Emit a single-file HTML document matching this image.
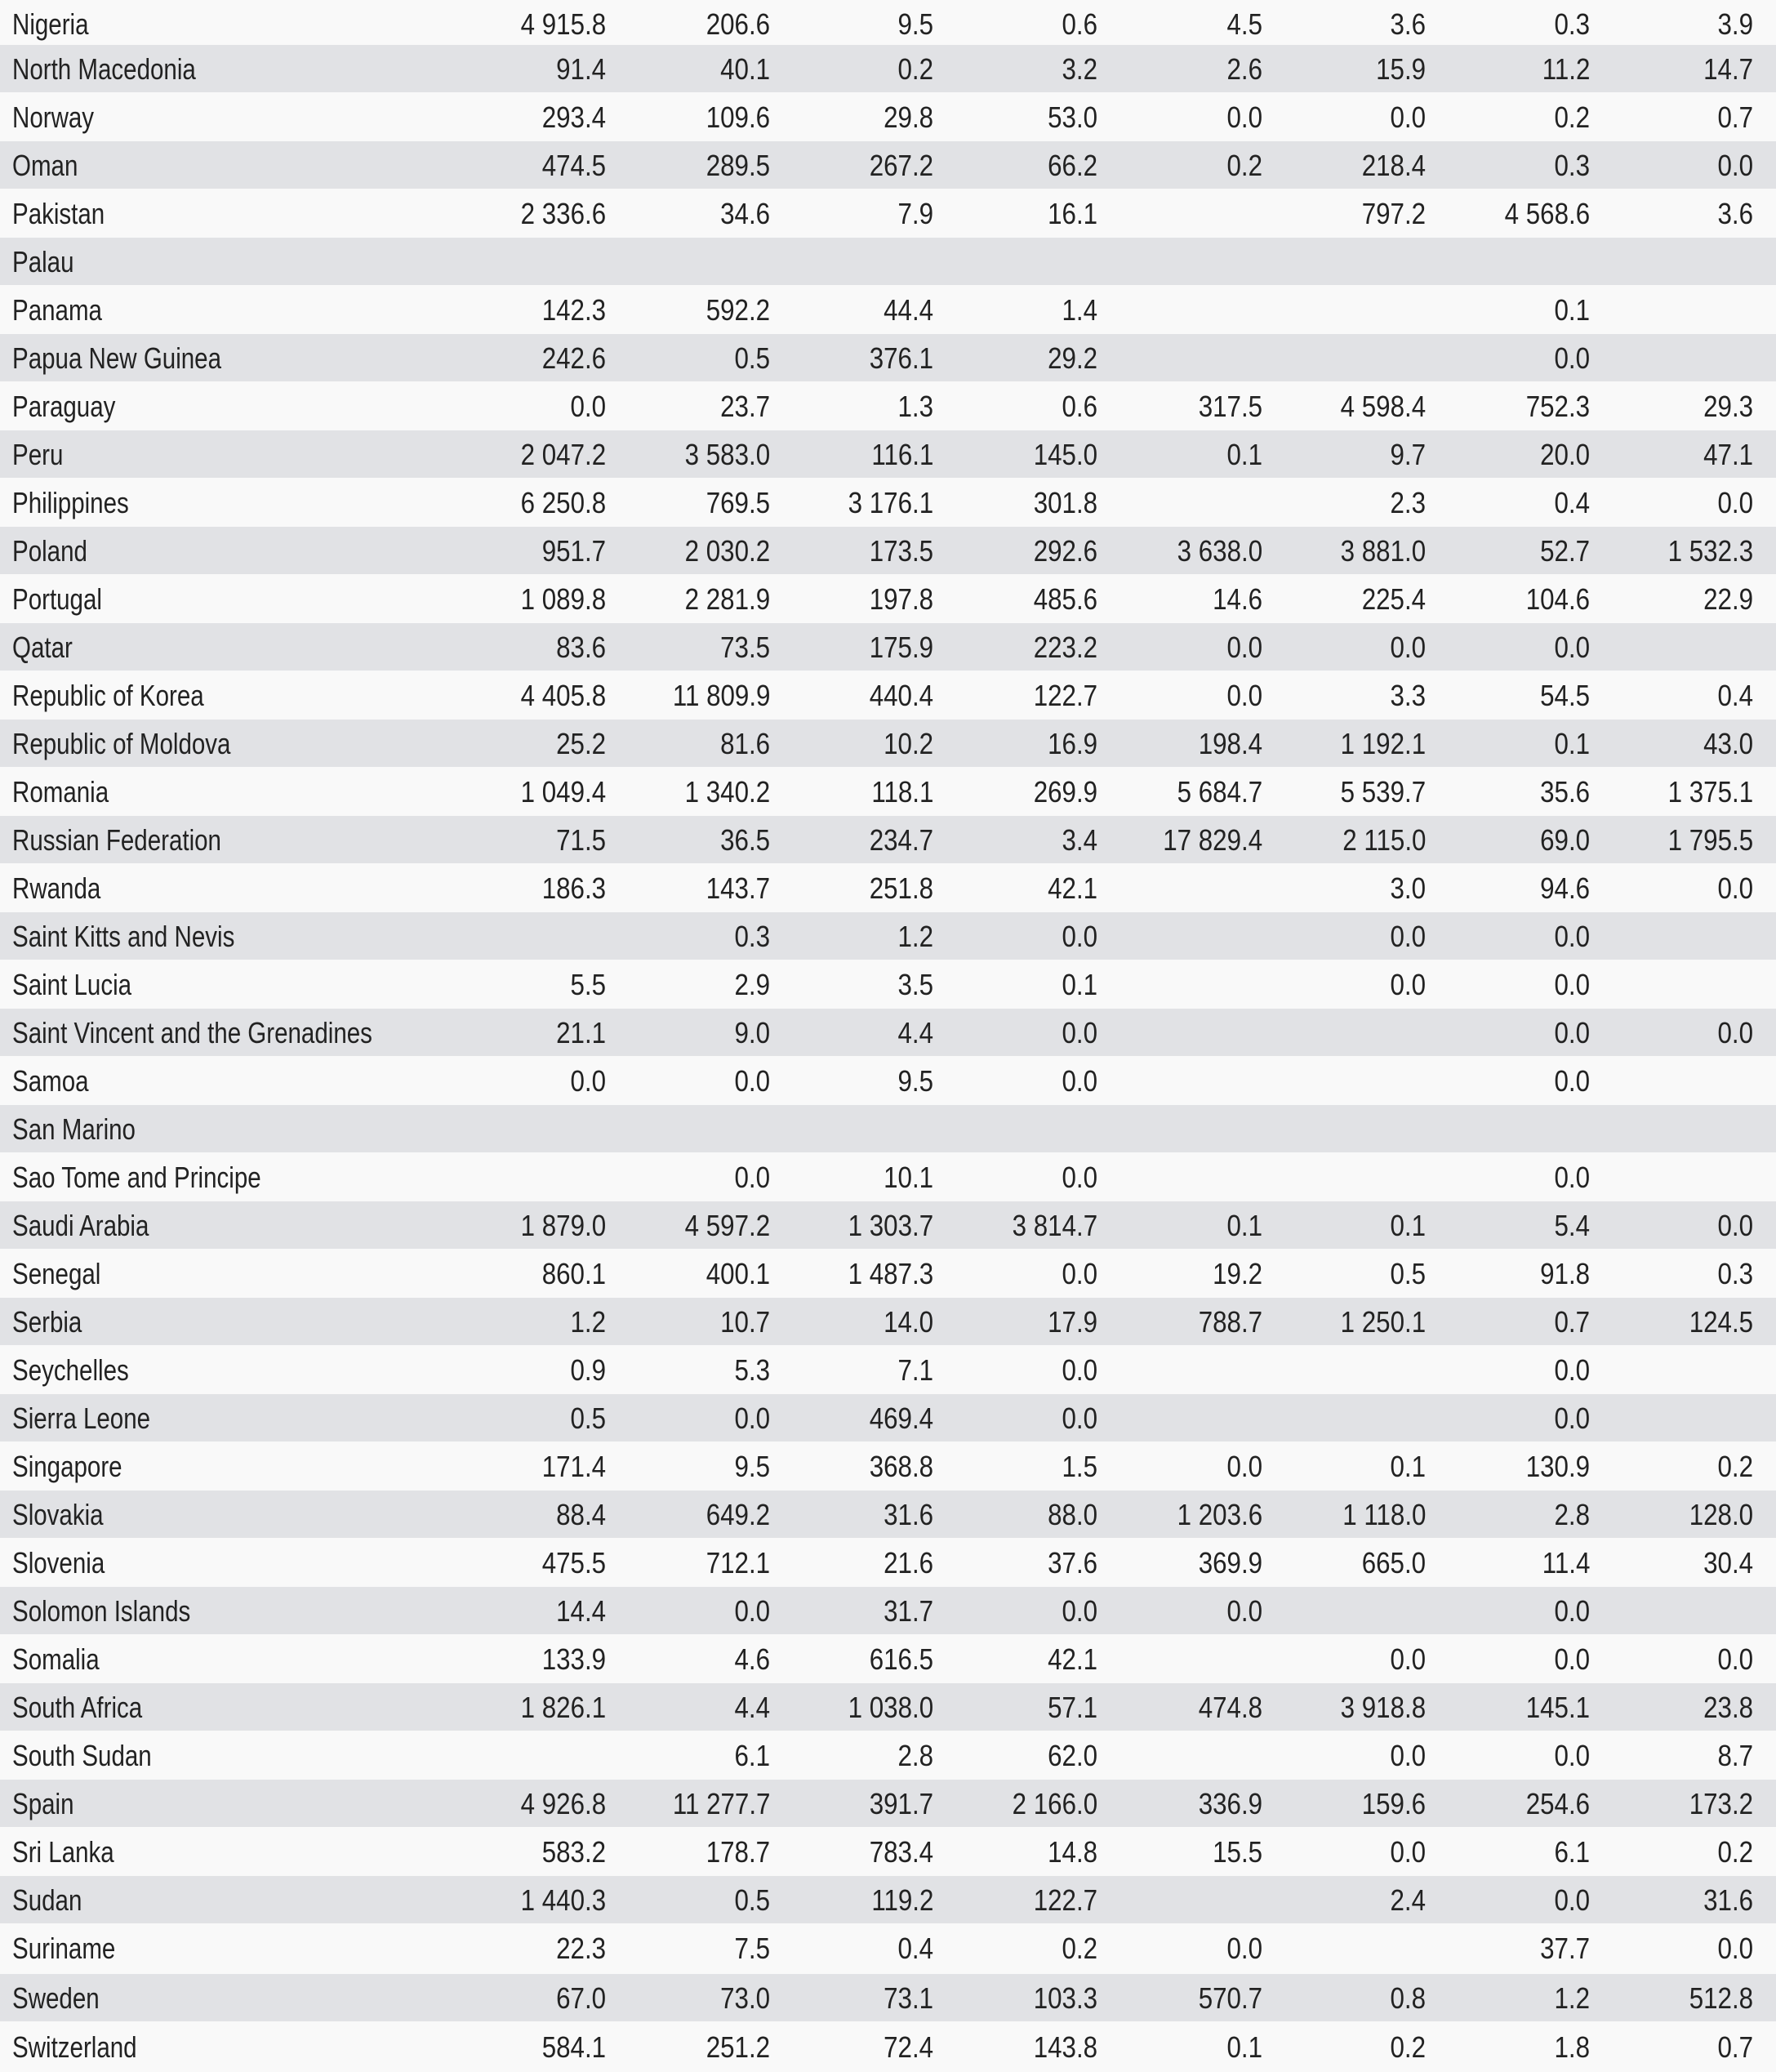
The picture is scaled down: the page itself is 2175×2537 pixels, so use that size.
<!DOCTYPE html>
<html><head><meta charset="utf-8"><style>
html,body{margin:0;padding:0;background:#f9f9f9;}
body{width:2175px;height:2536px;position:relative;overflow:hidden;font-family:"Liberation Sans",Arial,sans-serif;color:#222;}
.r{position:absolute;left:0;width:2175px;height:58px;}
.r:nth-child(even){background:#e1e2e5;}
.r span{position:absolute;top:0;line-height:60px;font-size:36px;white-space:nowrap;transform:scaleX(0.87);transform-origin:right center;}
.r span:nth-child(1){left:15px;transform-origin:left center;transform:scaleX(0.82);}
.r span:nth-child(2){right:calc(2175px - 742px);}
.r span:nth-child(3){right:calc(2175px - 943px);}
.r span:nth-child(4){right:calc(2175px - 1143px);}
.r span:nth-child(5){right:calc(2175px - 1344px);}
.r span:nth-child(6){right:calc(2175px - 1546px);}
.r span:nth-child(7){right:calc(2175px - 1746px);}
.r span:nth-child(8){right:calc(2175px - 1947px);}
.r span:nth-child(9){right:calc(2175px - 2147px);}
</style></head><body>
<div class="r" style="top:0px"><span>Nigeria</span><span>4 915.8</span><span>206.6</span><span>9.5</span><span>0.6</span><span>4.5</span><span>3.6</span><span>0.3</span><span>3.9</span></div>
<div class="r" style="top:55px"><span>North Macedonia</span><span>91.4</span><span>40.1</span><span>0.2</span><span>3.2</span><span>2.6</span><span>15.9</span><span>11.2</span><span>14.7</span></div>
<div class="r" style="top:114px"><span>Norway</span><span>293.4</span><span>109.6</span><span>29.8</span><span>53.0</span><span>0.0</span><span>0.0</span><span>0.2</span><span>0.7</span></div>
<div class="r" style="top:173px"><span>Oman</span><span>474.5</span><span>289.5</span><span>267.2</span><span>66.2</span><span>0.2</span><span>218.4</span><span>0.3</span><span>0.0</span></div>
<div class="r" style="top:232px"><span>Pakistan</span><span>2 336.6</span><span>34.6</span><span>7.9</span><span>16.1</span><span></span><span>797.2</span><span>4 568.6</span><span>3.6</span></div>
<div class="r" style="top:291px"><span>Palau</span><span></span><span></span><span></span><span></span><span></span><span></span><span></span><span></span></div>
<div class="r" style="top:350px"><span>Panama</span><span>142.3</span><span>592.2</span><span>44.4</span><span>1.4</span><span></span><span></span><span>0.1</span><span></span></div>
<div class="r" style="top:409px"><span>Papua New Guinea</span><span>242.6</span><span>0.5</span><span>376.1</span><span>29.2</span><span></span><span></span><span>0.0</span><span></span></div>
<div class="r" style="top:468px"><span>Paraguay</span><span>0.0</span><span>23.7</span><span>1.3</span><span>0.6</span><span>317.5</span><span>4 598.4</span><span>752.3</span><span>29.3</span></div>
<div class="r" style="top:527px"><span>Peru</span><span>2 047.2</span><span>3 583.0</span><span>116.1</span><span>145.0</span><span>0.1</span><span>9.7</span><span>20.0</span><span>47.1</span></div>
<div class="r" style="top:586px"><span>Philippines</span><span>6 250.8</span><span>769.5</span><span>3 176.1</span><span>301.8</span><span></span><span>2.3</span><span>0.4</span><span>0.0</span></div>
<div class="r" style="top:645px"><span>Poland</span><span>951.7</span><span>2 030.2</span><span>173.5</span><span>292.6</span><span>3 638.0</span><span>3 881.0</span><span>52.7</span><span>1 532.3</span></div>
<div class="r" style="top:704px"><span>Portugal</span><span>1 089.8</span><span>2 281.9</span><span>197.8</span><span>485.6</span><span>14.6</span><span>225.4</span><span>104.6</span><span>22.9</span></div>
<div class="r" style="top:763px"><span>Qatar</span><span>83.6</span><span>73.5</span><span>175.9</span><span>223.2</span><span>0.0</span><span>0.0</span><span>0.0</span><span></span></div>
<div class="r" style="top:822px"><span>Republic of Korea</span><span>4 405.8</span><span>11 809.9</span><span>440.4</span><span>122.7</span><span>0.0</span><span>3.3</span><span>54.5</span><span>0.4</span></div>
<div class="r" style="top:881px"><span>Republic of Moldova</span><span>25.2</span><span>81.6</span><span>10.2</span><span>16.9</span><span>198.4</span><span>1 192.1</span><span>0.1</span><span>43.0</span></div>
<div class="r" style="top:940px"><span>Romania</span><span>1 049.4</span><span>1 340.2</span><span>118.1</span><span>269.9</span><span>5 684.7</span><span>5 539.7</span><span>35.6</span><span>1 375.1</span></div>
<div class="r" style="top:999px"><span>Russian Federation</span><span>71.5</span><span>36.5</span><span>234.7</span><span>3.4</span><span>17 829.4</span><span>2 115.0</span><span>69.0</span><span>1 795.5</span></div>
<div class="r" style="top:1058px"><span>Rwanda</span><span>186.3</span><span>143.7</span><span>251.8</span><span>42.1</span><span></span><span>3.0</span><span>94.6</span><span>0.0</span></div>
<div class="r" style="top:1117px"><span>Saint Kitts and Nevis</span><span></span><span>0.3</span><span>1.2</span><span>0.0</span><span></span><span>0.0</span><span>0.0</span><span></span></div>
<div class="r" style="top:1176px"><span>Saint Lucia</span><span>5.5</span><span>2.9</span><span>3.5</span><span>0.1</span><span></span><span>0.0</span><span>0.0</span><span></span></div>
<div class="r" style="top:1235px"><span>Saint Vincent and the Grenadines</span><span>21.1</span><span>9.0</span><span>4.4</span><span>0.0</span><span></span><span></span><span>0.0</span><span>0.0</span></div>
<div class="r" style="top:1294px"><span>Samoa</span><span>0.0</span><span>0.0</span><span>9.5</span><span>0.0</span><span></span><span></span><span>0.0</span><span></span></div>
<div class="r" style="top:1353px"><span>San Marino</span><span></span><span></span><span></span><span></span><span></span><span></span><span></span><span></span></div>
<div class="r" style="top:1412px"><span>Sao Tome and Principe</span><span></span><span>0.0</span><span>10.1</span><span>0.0</span><span></span><span></span><span>0.0</span><span></span></div>
<div class="r" style="top:1471px"><span>Saudi Arabia</span><span>1 879.0</span><span>4 597.2</span><span>1 303.7</span><span>3 814.7</span><span>0.1</span><span>0.1</span><span>5.4</span><span>0.0</span></div>
<div class="r" style="top:1530px"><span>Senegal</span><span>860.1</span><span>400.1</span><span>1 487.3</span><span>0.0</span><span>19.2</span><span>0.5</span><span>91.8</span><span>0.3</span></div>
<div class="r" style="top:1589px"><span>Serbia</span><span>1.2</span><span>10.7</span><span>14.0</span><span>17.9</span><span>788.7</span><span>1 250.1</span><span>0.7</span><span>124.5</span></div>
<div class="r" style="top:1648px"><span>Seychelles</span><span>0.9</span><span>5.3</span><span>7.1</span><span>0.0</span><span></span><span></span><span>0.0</span><span></span></div>
<div class="r" style="top:1707px"><span>Sierra Leone</span><span>0.5</span><span>0.0</span><span>469.4</span><span>0.0</span><span></span><span></span><span>0.0</span><span></span></div>
<div class="r" style="top:1766px"><span>Singapore</span><span>171.4</span><span>9.5</span><span>368.8</span><span>1.5</span><span>0.0</span><span>0.1</span><span>130.9</span><span>0.2</span></div>
<div class="r" style="top:1825px"><span>Slovakia</span><span>88.4</span><span>649.2</span><span>31.6</span><span>88.0</span><span>1 203.6</span><span>1 118.0</span><span>2.8</span><span>128.0</span></div>
<div class="r" style="top:1884px"><span>Slovenia</span><span>475.5</span><span>712.1</span><span>21.6</span><span>37.6</span><span>369.9</span><span>665.0</span><span>11.4</span><span>30.4</span></div>
<div class="r" style="top:1943px"><span>Solomon Islands</span><span>14.4</span><span>0.0</span><span>31.7</span><span>0.0</span><span>0.0</span><span></span><span>0.0</span><span></span></div>
<div class="r" style="top:2002px"><span>Somalia</span><span>133.9</span><span>4.6</span><span>616.5</span><span>42.1</span><span></span><span>0.0</span><span>0.0</span><span>0.0</span></div>
<div class="r" style="top:2061px"><span>South Africa</span><span>1 826.1</span><span>4.4</span><span>1 038.0</span><span>57.1</span><span>474.8</span><span>3 918.8</span><span>145.1</span><span>23.8</span></div>
<div class="r" style="top:2120px"><span>South Sudan</span><span></span><span>6.1</span><span>2.8</span><span>62.0</span><span></span><span>0.0</span><span>0.0</span><span>8.7</span></div>
<div class="r" style="top:2179px"><span>Spain</span><span>4 926.8</span><span>11 277.7</span><span>391.7</span><span>2 166.0</span><span>336.9</span><span>159.6</span><span>254.6</span><span>173.2</span></div>
<div class="r" style="top:2238px"><span>Sri Lanka</span><span>583.2</span><span>178.7</span><span>783.4</span><span>14.8</span><span>15.5</span><span>0.0</span><span>6.1</span><span>0.2</span></div>
<div class="r" style="top:2297px"><span>Sudan</span><span>1 440.3</span><span>0.5</span><span>119.2</span><span>122.7</span><span></span><span>2.4</span><span>0.0</span><span>31.6</span></div>
<div class="r" style="top:2356px"><span>Suriname</span><span>22.3</span><span>7.5</span><span>0.4</span><span>0.2</span><span>0.0</span><span></span><span>37.7</span><span>0.0</span></div>
<div class="r" style="top:2417px"><span>Sweden</span><span>67.0</span><span>73.0</span><span>73.1</span><span>103.3</span><span>570.7</span><span>0.8</span><span>1.2</span><span>512.8</span></div>
<div class="r" style="top:2477px"><span>Switzerland</span><span>584.1</span><span>251.2</span><span>72.4</span><span>143.8</span><span>0.1</span><span>0.2</span><span>1.8</span><span>0.7</span></div>
</body></html>
